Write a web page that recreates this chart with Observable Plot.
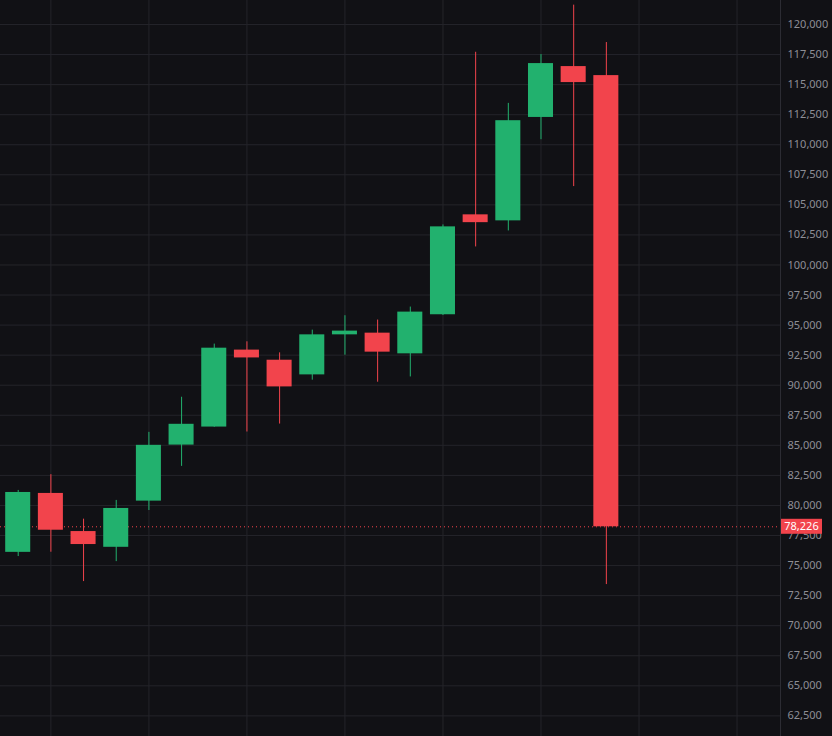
<!DOCTYPE html>
<html>
<head>
<meta charset="utf-8">
<script src="https://cdn.jsdelivr.net/npm/d3@7"></script>
<script src="https://cdn.jsdelivr.net/npm/@observablehq/plot@0.6"></script>
<style>
  html, body { margin: 0; padding: 0; background: #111115; overflow: hidden; }
</style>
</head>
<body>
<div id="chart"></div>
<script>
// valores OHLC (una vela por periodo)
const opens  = [76100, 81000, 77830, 76520, 80360, 85020, 86520, 92920, 92080, 90860, 94190, 94330, 92610, 95860, 104170, 103670, 112270, 116500, 115750];
const highs  = [81250, 82560, 78860, 80420, 86080, 89000, 93420, 93610, 92690, 94580, 95780, 95420, 96500, 103330, 117690, 113440, 117500, 121610, 118500];
const lows   = [75750, 76110, 73670, 75330, 79580, 83250, 86500, 86110, 86770, 90420, 92500, 90250, 90690, 95800, 101500, 102830, 110420, 106520, 73420];
const closes = [81080, 77940, 76750, 79750, 85000, 86750, 93080, 92270, 89860, 94190, 94500, 92750, 96080, 103170, 103520, 112000, 116750, 115170, 78226];
const lastPrice = 78226;
const yTicks = d3.range(62500, 120001, 2500);
const xGrid = [1, 4, 7, 10, 13, 16, 19, 22];

const green = '#22b16e';
const red = '#f2444c';
const gridColor = '#24242a';

const candles = opens.map((o, i) => ({
  i, open: o, high: highs[i], low: lows[i], close: closes[i],
  color: closes[i] >= o ? green : red
}));

const xmax = 23.33;
const half = 0.383; // media anchura del cuerpo

const chart = Plot.plot({
  width: 832,
  height: 736,
  marginLeft: 0,
  marginRight: 52,
  marginTop: 0,
  marginBottom: 0,
  style: { background: '#111115', fontFamily: 'Noto Sans', fontSize: '11px' },
  x: { type: 'linear', domain: [-0.542, xmax], axis: null },
  y: { domain: [60785, 121996], axis: null },
  marks: [
    Plot.gridY(yTicks, { stroke: gridColor, strokeOpacity: 1 }),
    Plot.gridX(xGrid, { stroke: gridColor, strokeOpacity: 1 }),
    Plot.ruleX([xmax], { stroke: '#2c2c33' }),
    Plot.axisY(yTicks, {
      anchor: 'right', tickSize: 0, tickPadding: 7,
      tickFormat: d3.format(','), fill: '#8e8e95'
    }),
    Plot.ruleY([lastPrice], { stroke: red, strokeDasharray: '1,3', strokeWidth: 1 }),
    Plot.ruleX(candles, { x: 'i', y1: 'low', y2: 'high', stroke: d => d.color, strokeWidth: 1 }),
    Plot.rect(candles, {
      x1: d => d.i - half, x2: d => d.i + half,
      y1: 'open', y2: 'close', fill: d => d.color
    })
  ]
});

d3.select('#chart').append(() => chart);

// etiqueta del último precio sobre el eje
const py = chart.scale('y').apply(lastPrice);
const px = chart.scale('x').apply(xmax);
const svg = d3.select(chart);
svg.append('rect')
  .attr('x', px + 1).attr('y', py - 7.5)
  .attr('width', 41).attr('height', 15)
  .attr('fill', red);
svg.append('text')
  .attr('x', px + 21.5).attr('y', py)
  .attr('dy', '0.35em')
  .attr('text-anchor', 'middle')
  .attr('fill', '#ffffff')
  .attr('font-family', 'Noto Sans')
  .attr('font-size', 11)
  .text(d3.format(',')(lastPrice));
</script>
</body>
</html>
